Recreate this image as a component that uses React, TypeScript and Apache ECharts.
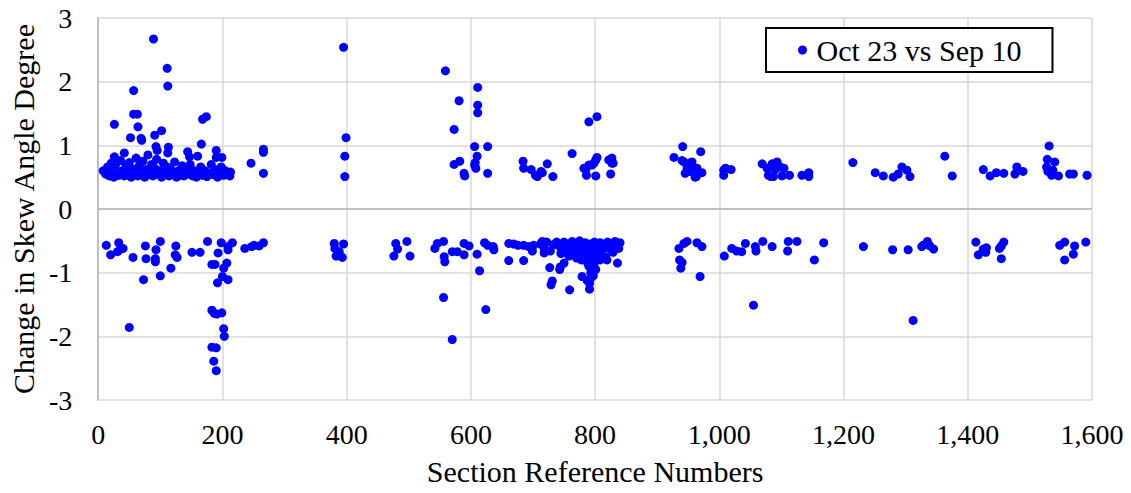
import React, { useEffect, useRef } from "react";
import * as echarts from "echarts";

const FONT = '"Liberation Serif", "Times New Roman", Times, serif';

const seriesName = "Oct 23 vs Sep 10";
const xTitle = "Section Reference Numbers";
const yTitle = "Change in Skew Angle Degree";

// Positive changes (section reference number, change in degrees)
const positiveSections = [
  8, 89, 111, 112, 57, 57, 63, 26, 168, 174, 64, 102, 91, 52, 69, 70, 166, 93, 113, 95, 112, 190, 199, 190, 266, 266, 246, 266, 213, 135, 144, 147, 160, 42, 26, 21,
  12, 15, 18, 22, 25, 28, 30, 33, 36, 38, 42, 45, 48, 50, 53, 56, 58, 61, 64, 66, 69, 72, 75, 78, 80, 83, 86, 88, 91, 94, 96, 99, 102, 105, 108, 111, 114, 117, 120, 123, 126, 129, 132, 135, 138, 142, 145, 148, 152, 155, 158, 162, 165, 168, 172, 175, 178, 182, 185, 188, 192, 195, 198, 202, 205, 208, 212,
  395, 399, 397, 397,
  559, 581, 573, 611, 611, 611, 606, 627, 610, 573, 582, 590, 589, 606, 608, 607, 627,
  684, 685, 697, 704, 707, 713, 723, 732, 715, 763,
  790, 803, 785, 786, 795, 803, 801, 825, 829, 825, 782, 790, 801, 798, 822, 827, 827,
  941, 927, 940, 954, 970, 945, 963, 972, 959, 943, 956, 964, 948, 953, 961,
  1007, 1007, 1019, 1010,
  1069, 1077, 1085, 1093, 1098, 1083, 1104, 1113, 1101, 1133, 1144, 1144, 1079, 1090, 1087,
  1215, 1251, 1264, 1280, 1294, 1302, 1307, 1288, 1363, 1375,
  1425, 1436, 1446, 1458, 1476, 1479, 1489,
  1531, 1528, 1540, 1527, 1529, 1535, 1546, 1537, 1564, 1570, 1592,
];
const positiveChanges = [
  0.6, 2.67, 2.21, 1.93, 1.86, 1.49, 1.49, 1.33, 1.41, 1.45, 1.29, 1.23, 1.16, 1.12, 1.11, 1.08, 1.02, 0.98, 0.97, 0.92, 0.88, 0.92, 0.81, 0.81, 0.94, 0.89, 0.72, 0.56, 0.58, 0.68, 0.9, 0.82, 0.83, 0.88, 0.82, 0.72,
  0.55, 0.66, 0.52, 0.62, 0.5, 0.7, 0.57, 0.53, 0.76, 0.6, 0.52, 0.67, 0.56, 0.73, 0.5, 0.63, 0.55, 0.8, 0.52, 0.68, 0.58, 0.75, 0.5, 0.62, 0.85, 0.55, 0.7, 0.52, 0.64, 0.78, 0.55, 0.6, 0.5, 0.72, 0.57, 0.66, 0.52, 0.62, 0.55, 0.74, 0.5, 0.6, 0.53, 0.58, 0.52, 0.64, 0.55, 0.7, 0.52, 0.6, 0.5, 0.57, 0.66, 0.53, 0.6, 0.51, 0.56, 0.7, 0.54, 0.62, 0.5, 0.57, 0.66, 0.53, 0.6, 0.55, 0.52,
  2.54, 1.12, 0.83, 0.51,
  2.17, 1.7, 1.25, 1.91, 1.63, 1.51, 0.98, 0.98, 0.83, 0.7, 0.75, 0.52, 0.56, 0.69, 0.64, 0.73, 0.56,
  0.75, 0.64, 0.62, 0.53, 0.51, 0.59, 0.71, 0.51, 0.57, 0.87,
  1.37, 1.45, 0.62, 0.53, 0.69, 0.81, 0.52, 0.78, 0.72, 0.55, 0.64, 0.69, 0.77, 0.72, 0.77, 0.8, 0.72,
  0.98, 0.81, 0.76, 0.73, 0.9, 0.56, 0.51, 0.57, 0.64, 0.74, 0.74, 0.64, 0.64, 0.59, 0.5,
  0.61, 0.53, 0.62, 0.64,
  0.71, 0.64, 0.71, 0.74, 0.66, 0.51, 0.64, 0.53, 0.52, 0.53, 0.57, 0.51, 0.53, 0.62, 0.51,
  0.73, 0.57, 0.52, 0.5, 0.66, 0.61, 0.51, 0.55, 0.83, 0.52,
  0.62, 0.52, 0.57, 0.56, 0.55, 0.66, 0.59,
  0.99, 0.78, 0.74, 0.66, 0.59, 0.53, 0.52, 0.61, 0.55, 0.55, 0.53,
];

// Negative changes
const negativeSections = [
  13, 20, 33, 36, 40, 31, 56, 50, 73, 76, 77, 93, 92, 92, 100, 100, 117, 125, 124, 127, 151, 164, 176, 193, 183, 188, 198, 209, 216, 209, 207, 202, 200, 209, 192, 183, 187, 199, 191, 202, 203, 183, 190, 186, 190, 236, 247, 259, 266, 251,
  380, 381, 383, 395, 393, 388, 479, 476, 482, 497, 502,
  542, 546, 556, 558, 556, 557, 570, 570, 578, 589, 589, 597, 610, 614, 624, 622, 627, 637, 636,
  661, 661, 669, 676, 685, 685, 693, 701, 699, 715, 718, 727, 731, 729, 743, 750, 759, 744, 779, 791, 791, 787, 819, 836, 835,
  712, 718, 722, 728, 733,
  738, 742, 746, 750, 753, 756, 760, 763, 766, 769, 772, 775, 778, 781, 784, 787, 790, 792, 794, 796, 798, 799, 801, 803, 805, 808, 811, 814, 817, 820, 823, 826, 829, 832, 835, 838, 840, 790, 793, 796, 788, 800, 785, 770, 758, 745, 778, 808, 797, 792,
  935, 943, 948, 936, 940, 938, 964, 972, 969,
  1008, 1020, 1028, 1036, 1042, 1058, 1059, 1070, 1085, 1111, 1125, 1110, 1153, 1168, 1055,
  1232, 1279, 1304, 1328, 1335, 1339, 1345, 1326, 1312,
  1413, 1417, 1425, 1430, 1429, 1451, 1458, 1454, 1454,
  1548, 1556, 1572, 1590, 1570, 1556,
];
const negativeChanges = [
  -0.57, -0.72, -0.53, -0.63, -0.62, -0.67, -0.76, -1.86, -1.11, -0.58, -0.78, -0.64, -0.78, -0.83, -0.51, -1.05, -0.93, -0.58, -0.72, -0.76, -0.68, -0.68, -0.51, -0.69, -0.87, -0.87, -0.53, -0.59, -0.53, -0.64, -0.85, -0.93, -1.06, -1.11, -1.16, -1.59, -1.64, -1.63, -1.65, -1.88, -2.0, -2.17, -2.18, -2.39, -2.54, -0.62, -0.59, -0.58, -0.53, -0.57,
  -0.54, -0.62, -0.74, -0.55, -0.76, -0.67, -0.54, -0.74, -0.63, -0.51, -0.74,
  -0.62, -0.54, -0.51, -0.83, -1.39, -0.75, -0.67, -2.05, -0.67, -0.54, -0.72, -0.58, -0.71, -0.97, -1.58, -0.53, -0.57, -0.64, -0.59,
  -0.54, -0.81, -0.55, -0.57, -0.81, -0.57, -0.59, -0.57, -0.66, -0.51, -0.69, -0.92, -1.13, -1.19, -0.95, -0.85, -1.27, -0.91, -1.06, -1.17, -1.26, -1.12, -0.8, -0.85, -0.54,
  -0.55, -0.62, -0.52, -0.66, -0.56,
  -0.52, -0.58, -0.63, -0.52, -0.68, -0.56, -0.61, -0.51, -0.72, -0.55, -0.64, -0.5, -0.59, -0.69, -0.53, -0.62, -0.74, -0.55, -0.81, -0.66, -0.88, -0.52, -0.95, -0.6, -0.7, -0.53, -0.64, -0.57, -0.75, -0.52, -0.62, -0.55, -0.68, -0.51, -0.58, -0.62, -0.53, -0.9, -1.0, -0.93, -0.85, -0.78, -0.75, -0.77, -0.74, -0.7, -0.8, -0.8, -1.05, -1.1,
  -0.62, -0.54, -0.51, -0.8, -0.84, -0.93, -0.53, -0.59, -1.06,
  -0.74, -0.62, -0.66, -0.67, -0.54, -0.59, -0.66, -0.51, -0.59, -0.51, -0.51, -0.66, -0.8, -0.53, -1.51,
  -0.59, -0.64, -0.64, -0.57, -0.51, -0.58, -0.63, -0.59, -1.75,
  -0.52, -0.72, -0.63, -0.61, -0.68, -0.62, -0.52, -0.78, -0.58,
  -0.57, -0.52, -0.58, -0.52, -0.71, -0.8,
];

const xTicks = { min: 0, max: 1600, interval: 200 };
const yTicks = { min: -3, max: 3, interval: 1 };

export default function App() {
  const ref = useRef<HTMLDivElement>(null);
  useEffect(() => {
    document.body.style.margin = "0";
    if (!ref.current) return;
    const chart = echarts.init(ref.current, undefined, { renderer: "svg" });
    const data: number[][] = [];
    positiveSections.forEach((x, i) => data.push([x, positiveChanges[i]]));
    negativeSections.forEach((x, i) => data.push([x, negativeChanges[i]]));
    const textBase = { fontFamily: FONT, color: "#000" };
    chart.setOption({
      animation: false,
      backgroundColor: "#fff",
      grid: { left: 97, right: 39, top: 18, bottom: 93 },
      legend: {
        left: 766,
        top: 28,
        icon: "circle",
        itemWidth: 18,
        itemHeight: 9,
        padding: [7, 31, 7, 32],
        borderColor: "#000",
        borderWidth: 2,
        backgroundColor: "#fff",
        textStyle: { ...textBase, fontSize: 30 },
        data: [seriesName],
      },
      xAxis: {
        type: "value",
        ...xTicks,
        axisLine: { show: false },
        axisTick: { show: false },
        axisLabel: {
          ...textBase,
          fontSize: 28,
          margin: 20,
          formatter: (v: number) => v.toLocaleString("en-US"),
        },
        splitLine: { show: true, lineStyle: { color: "#d9d9d9", width: 1.5 } },
        name: xTitle,
        nameLocation: "middle",
        nameGap: 56,
        nameTextStyle: { ...textBase, fontSize: 30 },
      },
      yAxis: {
        type: "value",
        ...yTicks,
        axisLine: { show: true, lineStyle: { color: "#bfbfbf", width: 2 } },
        axisTick: { show: false },
        axisLabel: { ...textBase, fontSize: 28, margin: 26 },
        splitLine: { show: true, lineStyle: { color: "#d9d9d9", width: 1.5 } },
        name: yTitle,
        nameLocation: "middle",
        nameGap: 60,
        nameTextStyle: { ...textBase, fontSize: 30 },
      },
      series: [
        {
          type: "scatter",
          name: seriesName,
          data,
          symbol: "circle",
          symbolSize: 9,
          itemStyle: { color: "#0000ff", opacity: 1 },
          markLine: {
            silent: true,
            symbol: "none",
            label: { show: false },
            lineStyle: { color: "#bfbfbf", width: 2, type: "solid" },
            data: [{ yAxis: 0 }],
          },
        },
      ],
    });
    return () => chart.dispose();
  }, []);
  return (
    <div
      ref={ref}
      style={{ position: "absolute", left: 0, top: 0, width: 1131, height: 493 }}
    />
  );
}
